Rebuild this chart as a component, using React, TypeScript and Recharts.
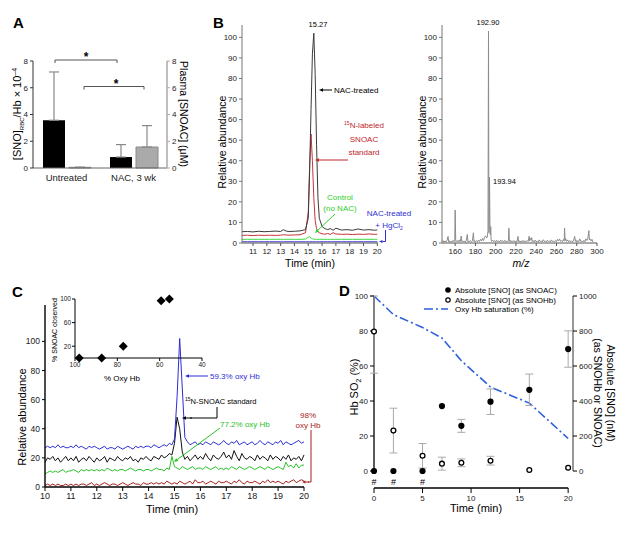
import React from 'react';
import {
  BarChart, Bar, ErrorBar, XAxis, YAxis, LineChart, Line,
  ScatterChart, Scatter, ComposedChart, ReferenceLine,
} from 'recharts';

const FONT = '"Liberation Sans", Arial, Helvetica, sans-serif';

// ---------- A: SNO in RBC (left axis) and plasma SNOAC (right axis)
const aGroups = ['Untreated', 'NAC, 3 wk'];
const aRbc = [3.57, 0.82];
const aRbcErr = [3.61, 0.93];
const aPlasma = [0.05, 1.57];
const aPlasmaErr = [0, 1.6];

// ---------- B: LC traces (min vs relative abundance)
const bTime = [10.2, 10.6, 11.0, 11.4, 11.8, 12.2, 12.6, 13.0, 13.2, 13.4, 13.6, 14.0, 14.4, 14.8, 15.0, 15.1, 15.2, 15.3, 15.4, 15.5, 15.6, 15.7, 15.8, 16.0, 16.2, 16.4, 16.6, 16.8, 17.0, 17.4, 17.8, 18.2, 18.6, 19.0, 19.4, 19.8, 20.0];
const bNac = [5.5, 5.6, 5.4, 5.7, 5.5, 5.6, 5.8, 5.6, 6.5, 5.8, 5.6, 5.7, 5.9, 6.5, 12, 35, 65, 92, 102, 82, 48, 22, 12, 8, 7, 6.5, 7, 6.2, 7.2, 6.3, 6.5, 6.2, 6.8, 6.3, 6.5, 6.2, 6.4];
const bStd = [3.7, 3.8, 3.6, 3.8, 3.7, 3.8, 3.7, 3.8, 4, 3.9, 3.8, 3.9, 4, 5, 15, 38, 53, 40, 22, 11, 7, 5.5, 5, 4.5, 4.3, 4.6, 4.2, 5, 4.4, 4.2, 4.3, 4.1, 4.3, 4.2, 4.4, 4.2, 4.3];
const bCtrl = [1.8, 1.8, 1.8, 1.8, 1.8, 1.8, 1.8, 1.8, 1.8, 1.8, 1.8, 1.8, 1.8, 1.9, 2.8, 3.0, 2.4, 2.0, 1.9, 1.8, 1.8, 1.8, 1.8, 1.8, 1.8, 1.8, 1.8, 1.8, 1.8, 1.8, 1.8, 1.8, 1.8, 1.8, 1.8, 1.8, 1.8];
const bHg = [0.6, 0.6, 0.6, 0.6, 0.6, 0.6, 0.6, 0.6, 0.6, 0.6, 0.6, 0.6, 0.6, 0.6, 0.6, 0.6, 0.6, 0.6, 0.6, 0.6, 0.6, 0.6, 0.6, 0.6, 0.6, 0.6, 0.6, 0.6, 0.6, 0.6, 0.6, 0.6, 0.6, 0.6, 0.6, 0.6, 0.6];

// ---------- B: mass spectrum [m/z, relative abundance]
const spectrum: [number, number][] = [
  [147, 0.6], [148, 1.2], [149, 0.4], [150, 1.0], [151, 0.5], [152, 1.4], [153, 3.2], [153.6, 0.6], [154, 1.1], [155, 0.4],
  [156, 0.9], [157, 0.5], [158, 1.3], [159, 0.6], [159.6, 0.8], [160, 16], [160.5, 1.5], [161, 0.7], [162, 1.2], [163, 0.5],
  [164, 1.5], [165, 0.6], [166, 3.4], [166.6, 0.7], [167, 1.1], [168, 0.5], [169, 1.0], [170, 0.4], [171, 1.3], [172, 4.2],
  [172.6, 0.6], [173, 1.0], [174, 0.5], [175, 1.2], [176, 0.6], [177, 1.0], [178, 5.0], [178.6, 0.6], [179, 1.1], [180, 0.5],
  [181, 1.2], [182, 0.6], [183, 1.4], [184, 0.7], [185, 1.8], [186, 1.0], [187, 2.2], [188, 1.2], [189, 2.8], [190, 3.5],
  [191, 2.4], [191.8, 3.0], [192.4, 6], [192.9, 103], [193.3, 5], [193.6, 8], [193.9, 32], [194.3, 9], [194.7, 4], [195.1, 8],
  [195.5, 1.5], [196, 0.8], [197, 1.4], [198, 0.6], [199, 1.2], [200, 0.5], [201, 1.3], [202, 0.6], [203, 1.0], [204, 0.5],
  [205, 1.4], [206, 0.7], [207, 1.1], [208, 0.5], [209, 1.3], [210, 0.6], [211, 1.0], [212, 0.5], [212.6, 1.2], [213, 7.2],
  [213.5, 0.8], [214, 1.5], [215, 0.5], [216, 1.1], [217, 0.6], [218, 1.2], [219, 0.5], [220, 1.0], [221, 0.6], [222, 3.2],
  [222.5, 0.7], [223, 1.2], [224, 0.5], [225, 1.0], [226, 0.6], [227, 1.3], [228, 0.5], [229, 1.0], [230, 0.6], [231, 1.2],
  [232, 0.7], [233, 3.3], [233.6, 1.0], [234, 2.4], [235, 1.5], [235.6, 2.6], [236, 0.6], [237, 1.2], [238, 0.5], [239, 1.4],
  [240, 0.6], [241, 1.0], [242, 0.5], [243, 1.5], [244, 0.6], [245, 1.0], [246, 0.5], [247, 1.6], [248, 0.7], [249, 1.0],
  [250, 0.5], [251, 1.3], [252, 0.6], [253, 1.1], [254, 0.5], [255, 1.5], [256, 0.7], [257, 1.0], [258, 0.5], [259, 1.2],
  [260, 0.6], [261, 1.8], [262, 1.0], [263, 2.0], [264, 0.8], [265, 1.2], [266, 0.6], [267, 1.8], [267.6, 1.0], [268, 7.3],
  [268.5, 1.2], [269, 2.2], [270, 0.8], [271, 1.5], [272, 0.6], [273, 1.2], [274, 0.5], [275, 1.0], [276, 0.6], [277, 1.5],
  [278, 3.2], [278.6, 0.8], [279, 1.6], [280, 0.5], [281, 1.2], [282, 0.6], [283, 2.0], [284, 0.7], [285, 1.0], [286, 0.5],
  [287, 1.3], [288, 0.6], [289, 2.0], [290, 1.2], [291, 2.4], [292, 6.0], [292.5, 1.5], [293, 2.0], [294, 1.0], [295, 1.8],
  [296, 0.5],
];

// ---------- C: traces at different oxy Hb
const cTime = [
  10.0, 10.1, 10.2, 10.3, 10.4, 10.5, 10.6, 10.7, 10.8, 10.9,
  11.0, 11.1, 11.2, 11.3, 11.4, 11.5, 11.6, 11.7, 11.8, 11.9,
  12.0, 12.1, 12.2, 12.3, 12.4, 12.5, 12.6, 12.7, 12.8, 12.9,
  13.0, 13.1, 13.2, 13.3, 13.4, 13.5, 13.6, 13.7, 13.8, 13.9,
  14.0, 14.1, 14.2, 14.3, 14.4, 14.5, 14.6, 14.7, 14.8, 14.9,
  15.0, 15.1, 15.2, 15.3, 15.4, 15.5, 15.6, 15.7, 15.8, 15.9,
  16.0, 16.1, 16.2, 16.3, 16.4, 16.5, 16.6, 16.7, 16.8, 16.9,
  17.0, 17.1, 17.2, 17.3, 17.4, 17.5, 17.6, 17.7, 17.8, 17.9,
  18.0, 18.1, 18.2, 18.3, 18.4, 18.5, 18.6, 18.7, 18.8, 18.9,
  19.0, 19.1, 19.2, 19.3, 19.4, 19.5, 19.6, 19.7, 19.8, 19.9,
  20.0,
];
const cOxy59 = [
  27, 28, 27, 28, 27, 29, 27, 28, 27, 27,
  28, 27, 29, 27, 28, 27, 26, 28, 27, 28,
  27, 26, 27, 28, 26, 27, 27, 26, 28, 27,
  26, 27, 28, 27, 26, 28, 27, 28, 27, 28,
  28, 27, 29, 28, 27, 28, 29, 28, 30, 29,
  33, 62, 102, 68, 34, 31, 29, 30, 31, 29,
  30, 29, 31, 30, 29, 31, 30, 29, 30, 32,
  30, 29, 31, 30, 32, 29, 30, 31, 29, 30,
  31, 29, 30, 32, 30, 29, 31, 30, 29, 31,
  30, 32, 29, 31, 30, 29, 30, 31, 32, 30,
  31,
];
const cStd = [
  17, 20, 19, 21, 18, 20, 17, 19, 21, 18,
  20, 18, 21, 17, 19, 20, 18, 21, 19, 17,
  20, 18, 19, 21, 17, 20, 19, 18, 21, 19,
  18, 20, 19, 21, 18, 19, 17, 20, 19, 21,
  19, 18, 21, 20, 19, 22, 20, 21, 23, 22,
  30, 48, 40, 24, 19, 21, 18, 20, 22, 19,
  21, 19, 23, 20, 18, 22, 20, 19, 21, 24,
  20, 22, 19, 25, 21, 18, 23, 20, 19, 21,
  20, 18, 22, 19, 21, 20, 18, 22, 19, 21,
  20, 18, 21, 19, 22, 18, 20, 19, 21, 18,
  22,
];
const cOxy77 = [
  9, 10, 11, 10, 11, 10, 11, 12, 10, 11,
  11, 12, 11, 10, 12, 11, 12, 11, 12, 11,
  12, 11, 12, 11, 13, 12, 11, 12, 11, 12,
  12, 11, 12, 13, 12, 11, 12, 12, 11, 12,
  12, 11, 12, 13, 12, 12, 11, 13, 12, 21,
  14, 13, 12, 14, 13, 12, 13, 14, 12, 13,
  13, 12, 14, 13, 12, 13, 14, 12, 13, 12,
  13, 12, 14, 13, 12, 14, 13, 12, 13, 14,
  13, 12, 13, 14, 13, 12, 14, 13, 12, 13,
  14, 13, 12, 17, 14, 15, 13, 16, 13, 15,
  15,
];
const cOxy98 = [
  1, 2, 1, 2, 1, 2, 1, 1, 2, 1,
  2, 1, 2, 1, 2, 2, 1, 2, 3, 1,
  2, 1, 2, 3, 2, 1, 2, 2, 1, 2,
  3, 2, 1, 2, 3, 2, 2, 1, 3, 2,
  2, 3, 2, 3, 2, 3, 2, 4, 3, 2,
  3, 2, 4, 3, 2, 3, 4, 2, 5, 3,
  3, 4, 2, 3, 4, 3, 2, 4, 3, 3,
  4, 3, 2, 4, 3, 5, 3, 2, 4, 3,
  3, 4, 3, 2, 4, 3, 5, 3, 4, 3,
  4, 3, 2, 4, 3, 4, 5, 3, 4, 5,
  4,
];

// ---------- C inset
const insetOxy = [98, 87.4, 77.2, 59.3, 55.4];
const insetSnoac = [0, 0, 20, 97, 100];

// ---------- D
const dTime = [0, 2, 5, 7, 9, 12, 16, 20];
const dSat = [100, 89.4, 82, 76, 63, 48, 38.8, 18.6];
const dSnoac = [0, 0, 0, 371, 258, 396, 464, 697];
const dSnoacErr = [null, null, null, null, 37, 73, 90, 104];
const dSnohb = [797, 231, 87, 42, 47, 59, 6, 19];
const dSnohbErr = [[238, 203], [128, 128], [70, 70], [37, 37], [22, 22], [25, 25], null, null];
const dHashTimes = [0, 2, 5];

const aData = aGroups.map((g, i) => ({
  group: g, rbc: aRbc[i], rbcErr: [0, aRbcErr[i]], plasma: aPlasma[i], plasmaErr: [0, aPlasmaErr[i]],
}));
const bData = bTime.map((t, i) => ({ t, nac: bNac[i], std: bStd[i], ctrl: bCtrl[i], hg: bHg[i] }));
const msData = spectrum.map(([mz, v]) => ({ mz, v }));
const cData = cTime.map((t, i) => ({ t, o59: cOxy59[i], std: cStd[i], o77: cOxy77[i], o98: cOxy98[i] }));
const insetData = insetOxy.map((o, i) => ({ oxy: o, snoac: insetSnoac[i] }));
const dData = dTime.map((t, i) => ({
  t, sat: dSat[i], snoac: dSnoac[i], snoacErr: dSnoacErr[i], snohb: dSnohb[i], snohbErr: dSnohbErr[i],
}));
const dHash = dHashTimes.map((t) => ({ t, h: 0 }));

const box = (left: number, top: number, width: number, height: number): React.CSSProperties => ({
  position: 'absolute', left, top, width, height,
});

const tk = (size: number) => ({ fontSize: size, fill: '#222' });

function Arrow({ x1, y1, x2, y2, color, head = 5 }: any) {
  const a = Math.atan2(y2 - y1, x2 - x1);
  const bx = x2 - head * Math.cos(a);
  const by = y2 - head * Math.sin(a);
  const w = head * 0.45;
  const pts = `${x2},${y2} ${bx + w * Math.sin(a)},${by - w * Math.cos(a)} ${bx - w * Math.sin(a)},${by + w * Math.cos(a)}`;
  return (
    <g>
      <line x1={x1} y1={y1} x2={bx} y2={by} stroke={color} strokeWidth={1} />
      <polygon points={pts} fill={color} />
    </g>
  );
}

function PanelA() {
  return (
    <BarChart width={210} height={200} data={aData} margin={{ top: 61, right: 0, bottom: 0, left: 0 }} barSize={22} barGap={4}>
      <XAxis dataKey="group" height={32} tickLine={false} tickSize={4} axisLine={{ stroke: '#666' }} tick={tk(9.5)} />
      <YAxis yAxisId="l" width={33} domain={[0, 8]} ticks={[0, 2, 4, 6, 8]} tickSize={3} tick={tk(8)}
        axisLine={{ stroke: '#333' }} tickLine={{ stroke: '#333' }} />
      <YAxis yAxisId="r" orientation="right" width={43} domain={[0, 8]} ticks={[0, 2, 4, 6, 8]} tickSize={3} tick={tk(8)}
        axisLine={{ stroke: '#aaa', strokeWidth: 1.5 }} tickLine={{ stroke: '#aaa' }} />
      <Bar yAxisId="l" dataKey="rbc" fill="#000" isAnimationActive={false}>
        <ErrorBar dataKey="rbcErr" width={5} stroke="#888" strokeWidth={1.2} />
      </Bar>
      <Bar yAxisId="r" dataKey="plasma" fill="#aaaaaa" stroke="#8a8a8a" isAnimationActive={false}>
        <ErrorBar dataKey="plasmaErr" width={5} stroke="#888" strokeWidth={1.2} />
      </Bar>
    </BarChart>
  );
}

function PanelBTrace() {
  return (
    <LineChart width={190} height={270} data={bData} margin={{ top: 25, right: 12, bottom: 0, left: 0 }}>
      <XAxis dataKey="t" type="number" domain={[10.2, 20.05]} ticks={[11, 12, 13, 14, 15, 16, 17, 18, 19, 20]}
        height={27} tickSize={3} tick={tk(8)} axisLine={{ stroke: '#555' }} tickLine={{ stroke: '#555' }} />
      <YAxis type="number" domain={[0, 106]} ticks={[0, 10, 20, 30, 40, 50, 60, 70, 80, 90, 100]} width={42}
        tickSize={3} tick={tk(8)} axisLine={{ stroke: '#777' }} tickLine={{ stroke: '#777' }} />
      <Line dataKey="hg" stroke="#3838d8" strokeWidth={1} dot={false} isAnimationActive={false} type="linear" />
      <Line dataKey="ctrl" stroke="#3fd83f" strokeWidth={1} dot={false} isAnimationActive={false} type="linear" />
      <Line dataKey="std" stroke="#c8343a" strokeWidth={1} dot={false} isAnimationActive={false} type="linear" />
      <Line dataKey="nac" stroke="#3a3a3a" strokeWidth={1} dot={false} isAnimationActive={false} type="linear" />
    </LineChart>
  );
}

function PanelBSpec() {
  return (
    <LineChart width={225} height={270} data={msData} margin={{ top: 25, right: 28, bottom: 0, left: 0 }}>
      <XAxis dataKey="mz" type="number" domain={[147, 300]} ticks={[160, 180, 200, 220, 240, 260, 280, 300]}
        height={27} tickSize={3} tick={tk(8)} axisLine={{ stroke: '#555' }} tickLine={{ stroke: '#555' }} />
      <YAxis type="number" domain={[0, 106]} ticks={[0, 10, 20, 30, 40, 50, 60, 70, 80, 90, 100]} width={42}
        tickSize={3} tick={tk(8)} axisLine={{ stroke: '#777' }} tickLine={{ stroke: '#777' }} />
      <Line dataKey="v" stroke="#8c8c8c" strokeWidth={1} dot={false} isAnimationActive={false} type="linear" />
    </LineChart>
  );
}

function PanelC() {
  return (
    <LineChart width={320} height={255} data={cData} margin={{ top: 25, right: 16, bottom: 0, left: 0 }}>
      <XAxis dataKey="t" type="number" domain={[10, 20]} ticks={[10, 11, 12, 13, 14, 15, 16, 17, 18, 19, 20]}
        height={48} tickSize={4} tick={tk(9)} axisLine={{ stroke: '#000', strokeWidth: 1.4 }} tickLine={{ stroke: '#000' }} />
      <YAxis type="number" domain={[0, 125]} ticks={[0, 10, 20, 30, 40, 50, 60, 70, 80, 90, 100]} width={45}
        tickSize={3} tick={tk(8.5)} axisLine={{ stroke: '#000', strokeWidth: 1.4 }} tickLine={{ stroke: '#000' }} />
      <Line dataKey="o98" stroke="#a81c1c" strokeWidth={1} dot={false} isAnimationActive={false} type="linear" />
      <Line dataKey="o77" stroke="#27c227" strokeWidth={1} dot={false} isAnimationActive={false} type="linear" />
      <Line dataKey="std" stroke="#111" strokeWidth={1} dot={false} isAnimationActive={false} type="linear" />
      <Line dataKey="o59" stroke="#2d2dd6" strokeWidth={1} dot={false} isAnimationActive={false} type="linear" />
    </LineChart>
  );
}

const Diamond = (p: any) => (
  <polygon points={`${p.cx},${p.cy - 4.5} ${p.cx + 4.5},${p.cy} ${p.cx},${p.cy + 4.5} ${p.cx - 4.5},${p.cy}`} fill="#000" />
);

function PanelCInset() {
  return (
    <ScatterChart width={190} height={80} margin={{ top: 9, right: 18, bottom: 0, left: 0 }}>
      <XAxis dataKey="oxy" type="number" domain={[40, 100]} reversed ticks={[100, 80, 60, 40]} height={12}
        tickSize={3} tickMargin={1} tick={tk(6.5)} axisLine={{ stroke: '#000' }} tickLine={{ stroke: '#000' }} />
      <YAxis dataKey="snoac" type="number" domain={[0, 100]} ticks={[0, 20, 40, 60, 80, 100]} width={45}
        tickSize={3} tickMargin={1} tick={tk(6.5)} axisLine={{ stroke: '#000' }} tickLine={{ stroke: '#000' }} />
      <Scatter data={insetData} shape={Diamond} isAnimationActive={false} />
    </ScatterChart>
  );
}

const FilledDot = (p: any) => <circle cx={p.cx} cy={p.cy} r={3.1} fill="#000" />;
const OpenDot = (p: any) => <circle cx={p.cx} cy={p.cy} r={2.4} fill="#fff" stroke="#000" strokeWidth={1.3} />;
const HashMark = (p: any) => (
  <text x={p.cx} y={p.cy + 14} textAnchor="middle" fontSize={9} fill="#000">#</text>
);

function PanelD() {
  return (
    <ComposedChart width={305} height={255} data={dData} margin={{ top: 16, right: 0, bottom: 0, left: 0 }}>
      <XAxis dataKey="t" type="number" domain={[0, 20.5]} ticks={[0, 5, 10, 15, 20]} height={47}
        tickSize={5} tick={tk(8)} axisLine={false} tickLine={{ stroke: '#000' }} />
      <YAxis yAxisId="l" type="number" domain={[-9.7, 100]} ticks={[0, 20, 40, 60, 80, 100]} width={54}
        tickSize={4} tick={tk(8)} axisLine={false} tickLine={{ stroke: '#000' }} />
      <YAxis yAxisId="r" orientation="right" type="number" domain={[-97, 1000]} ticks={[0, 200, 400, 600, 800, 1000]}
        width={52} tickSize={4} tick={tk(8)} axisLine={false} tickLine={{ stroke: '#000' }} />
      <ReferenceLine yAxisId="l" segment={[{ x: 0, y: 0 }, { x: 0, y: 100 }]} stroke="#000" strokeWidth={1.3} />
      <ReferenceLine yAxisId="l" segment={[{ x: 0, y: -9.7 }, { x: 20, y: -9.7 }]} stroke="#000" strokeWidth={1.3} />
      <ReferenceLine yAxisId="r" segment={[{ x: 20.5, y: 0 }, { x: 20.5, y: 1000 }]} stroke="#333" strokeWidth={1} />
      <Line yAxisId="l" dataKey="sat" stroke="#2e5fdc" strokeWidth={1.6} strokeDasharray="9 3 2 3" dot={false}
        isAnimationActive={false} type="linear" />
      <Scatter yAxisId="r" dataKey="snohb" shape={OpenDot} isAnimationActive={false}>
        <ErrorBar dataKey="snohbErr" direction="y" width={4} stroke="#aaa" strokeWidth={1} />
      </Scatter>
      <Scatter yAxisId="r" dataKey="snoac" shape={FilledDot} isAnimationActive={false}>
        <ErrorBar dataKey="snoacErr" direction="y" width={4} stroke="#aaa" strokeWidth={1} />
      </Scatter>
      <Scatter yAxisId="l" data={dHash} dataKey="h" shape={HashMark} isAnimationActive={false} />
    </ComposedChart>
  );
}

function Overlay() {
  const red = '#c1272d';
  const green = '#2ccf2c';
  const blue = '#3030d0';
  return (
    <svg width={625} height={535} style={{ position: 'absolute', left: 0, top: 0, pointerEvents: 'none' }} fontFamily={FONT}>
      {/* panel letters */}
      <text x={13} y={28} fontSize={15} fontWeight="bold">A</text>
      <text x={213} y={28} fontSize={15} fontWeight="bold">B</text>
      <text x={12} y={297} fontSize={15} fontWeight="bold">C</text>
      <text x={339} y={296} fontSize={15} fontWeight="bold">D</text>

      {/* A */}
      <path d="M55 63 V60 H117 V63" fill="none" stroke="#555" strokeWidth={1} />
      <text x={86} y={61} fontSize={12} textAnchor="middle" fontWeight="bold">*</text>
      <path d="M84 89.5 V86.5 H144 V89.5" fill="none" stroke="#555" strokeWidth={1} />
      <text x={116} y={87.5} fontSize={12} textAnchor="middle" fontWeight="bold">*</text>
      <text transform="translate(21,114) rotate(-90)" textAnchor="middle" fontSize={11}>
        [SNO]<tspan fontSize={6} dy={3}>RBC</tspan><tspan dy={-3}>/Hb × 10</tspan><tspan fontSize={7} dy={-4}>–4</tspan>
      </text>
      <text transform="translate(180,114) rotate(90)" textAnchor="middle" fontSize={10.5}>Plasma [SNOAC] (μM)</text>

      {/* B traces */}
      <text transform="translate(226,142) rotate(-90)" textAnchor="middle" fontSize={10.5}>Relative abundance</text>
      <text x={310} y={267} textAnchor="middle" fontSize={10.5}>Time (min)</text>
      <text x={318} y={27} textAnchor="middle" fontSize={7.5}>15.27</text>
      <Arrow x1={332} y1={90} x2={319} y2={90} color="#000" head={4} />
      <text x={334} y={93} fontSize={8}>NAC-treated</text>
      <text x={364} y={128} textAnchor="middle" fontSize={8} fill={red}>
        <tspan fontSize={5} dy={-3}>15</tspan><tspan dy={3}>N-labeled</tspan>
      </text>
      <text x={364} y={142} textAnchor="middle" fontSize={8} fill={red}>SNOAC</text>
      <text x={364} y={155} textAnchor="middle" fontSize={8} fill={red}>standard</text>
      <Arrow x1={348} y1={160} x2={315} y2={160} color={red} head={4} />
      <text x={340} y={200} textAnchor="middle" fontSize={8} fill={green}>Control</text>
      <text x={340} y={211} textAnchor="middle" fontSize={8} fill={green}>(no NAC)</text>
      <Arrow x1={335} y1={214} x2={315} y2={233} color={green} head={4} />
      <text x={389} y={216} textAnchor="middle" fontSize={8} fill={blue}>NAC-treated</text>
      <text x={389} y={228} textAnchor="middle" fontSize={8} fill={blue}>
        + HgCl<tspan fontSize={5} dy={2}>2</tspan>
      </text>
      <polyline points="385.5,230 385.5,241.5 383,241.5" fill="none" stroke={blue} strokeWidth={1} />
      <Arrow x1={385} y1={241.5} x2={379} y2={241.5} color={blue} head={3.5} />

      {/* B spectrum */}
      <text transform="translate(426,142) rotate(-90)" textAnchor="middle" fontSize={10.5}>Relative abundance</text>
      <text x={521} y={267} textAnchor="middle" fontSize={10.5} fontStyle="italic">m/z</text>
      <text x={488} y={25} textAnchor="middle" fontSize={7.5}>192.90</text>
      <text x={493} y={184} fontSize={7.5}>193.94</text>

      {/* C */}
      <text transform="translate(26,417) rotate(-90)" textAnchor="middle" fontSize={11}>Relative abundance</text>
      <text x={172} y={513} textAnchor="middle" fontSize={11}>Time (min)</text>
      <text transform="translate(57,330) rotate(-90)" textAnchor="middle" fontSize={7}>% SNOAC observed</text>
      <text x={122} y={381} textAnchor="middle" fontSize={8}>% Oxy Hb</text>
      <Arrow x1={208} y1={376} x2={185} y2={376} color="#2d2dd6" head={4} />
      <text x={210} y={379} fontSize={8} fill="#2d2dd6">59.3% oxy Hb</text>
      <text x={185} y={404} fontSize={7.5}>
        <tspan fontSize={5} dy={-3}>15</tspan><tspan dy={3}>N-SNOAC standard</tspan>
      </text>
      <polyline points="217,407 217,418 190,418" fill="none" stroke="#000" strokeWidth={1} />
      <Arrow x1={192} y1={418} x2={182} y2={418} color="#000" head={4} />
      <text x={220} y={427} fontSize={8} fill="#27c227">77.2% oxy Hb</text>
      <Arrow x1={220} y1={428} x2={174} y2={462} color="#27c227" head={4} />
      <text x={308} y={418} textAnchor="middle" fontSize={8} fill="#a81c1c">98%</text>
      <text x={308} y={428} textAnchor="middle" fontSize={8} fill="#a81c1c">oxy Hb</text>
      <polyline points="311,430 311,482 308,482" fill="none" stroke="#a81c1c" strokeWidth={1} />
      <Arrow x1={309} y1={482} x2={302} y2={482} color="#a81c1c" head={3.5} />

      {/* D */}
      <text transform="translate(358,387) rotate(-90)" textAnchor="middle" fontSize={11}>
        Hb SO<tspan fontSize={7} dy={3}>2</tspan><tspan dy={-3}> (%)</tspan>
      </text>
      <text x={476} y={512} textAnchor="middle" fontSize={11}>Time (min)</text>
      <text transform="translate(607,393) rotate(90)" textAnchor="middle" fontSize={10.5}>Absolute [SNO] (nM)</text>
      <text transform="translate(594,393) rotate(90)" textAnchor="middle" fontSize={10.5}>(as SNOHb or SNOAC)</text>
      <circle cx={448} cy={290} r={2.8} fill="#000" />
      <text x={455} y={293} fontSize={8}>Absolute [SNO] (as SNOAC)</text>
      <circle cx={448} cy={300} r={2.2} fill="#fff" stroke="#000" strokeWidth={1.2} />
      <text x={455} y={303} fontSize={8}>Absolute [SNO] (as SNOHb)</text>
      <line x1={424} y1={309} x2={448} y2={309} stroke="#2e5fdc" strokeWidth={1.6} strokeDasharray="9 3 2 3" />
      <text x={455} y={312} fontSize={8}>Oxy Hb saturation (%)</text>
    </svg>
  );
}

export default function App() {
  return (
    <div style={{ position: 'absolute', left: 0, top: 0, width: 625, height: 535, background: '#fff', fontFamily: FONT, overflow: 'hidden' }}>
      <div style={box(0, 0, 210, 200)}><PanelA /></div>
      <div style={box(200, 0, 190, 270)}><PanelBTrace /></div>
      <div style={box(400, 0, 225, 270)}><PanelBSpec /></div>
      <div style={box(0, 280, 320, 255)}><PanelC /></div>
      <div style={box(30, 290, 190, 80)}><PanelCInset /></div>
      <div style={box(320, 280, 305, 255)}><PanelD /></div>
      <Overlay />
    </div>
  );
}
